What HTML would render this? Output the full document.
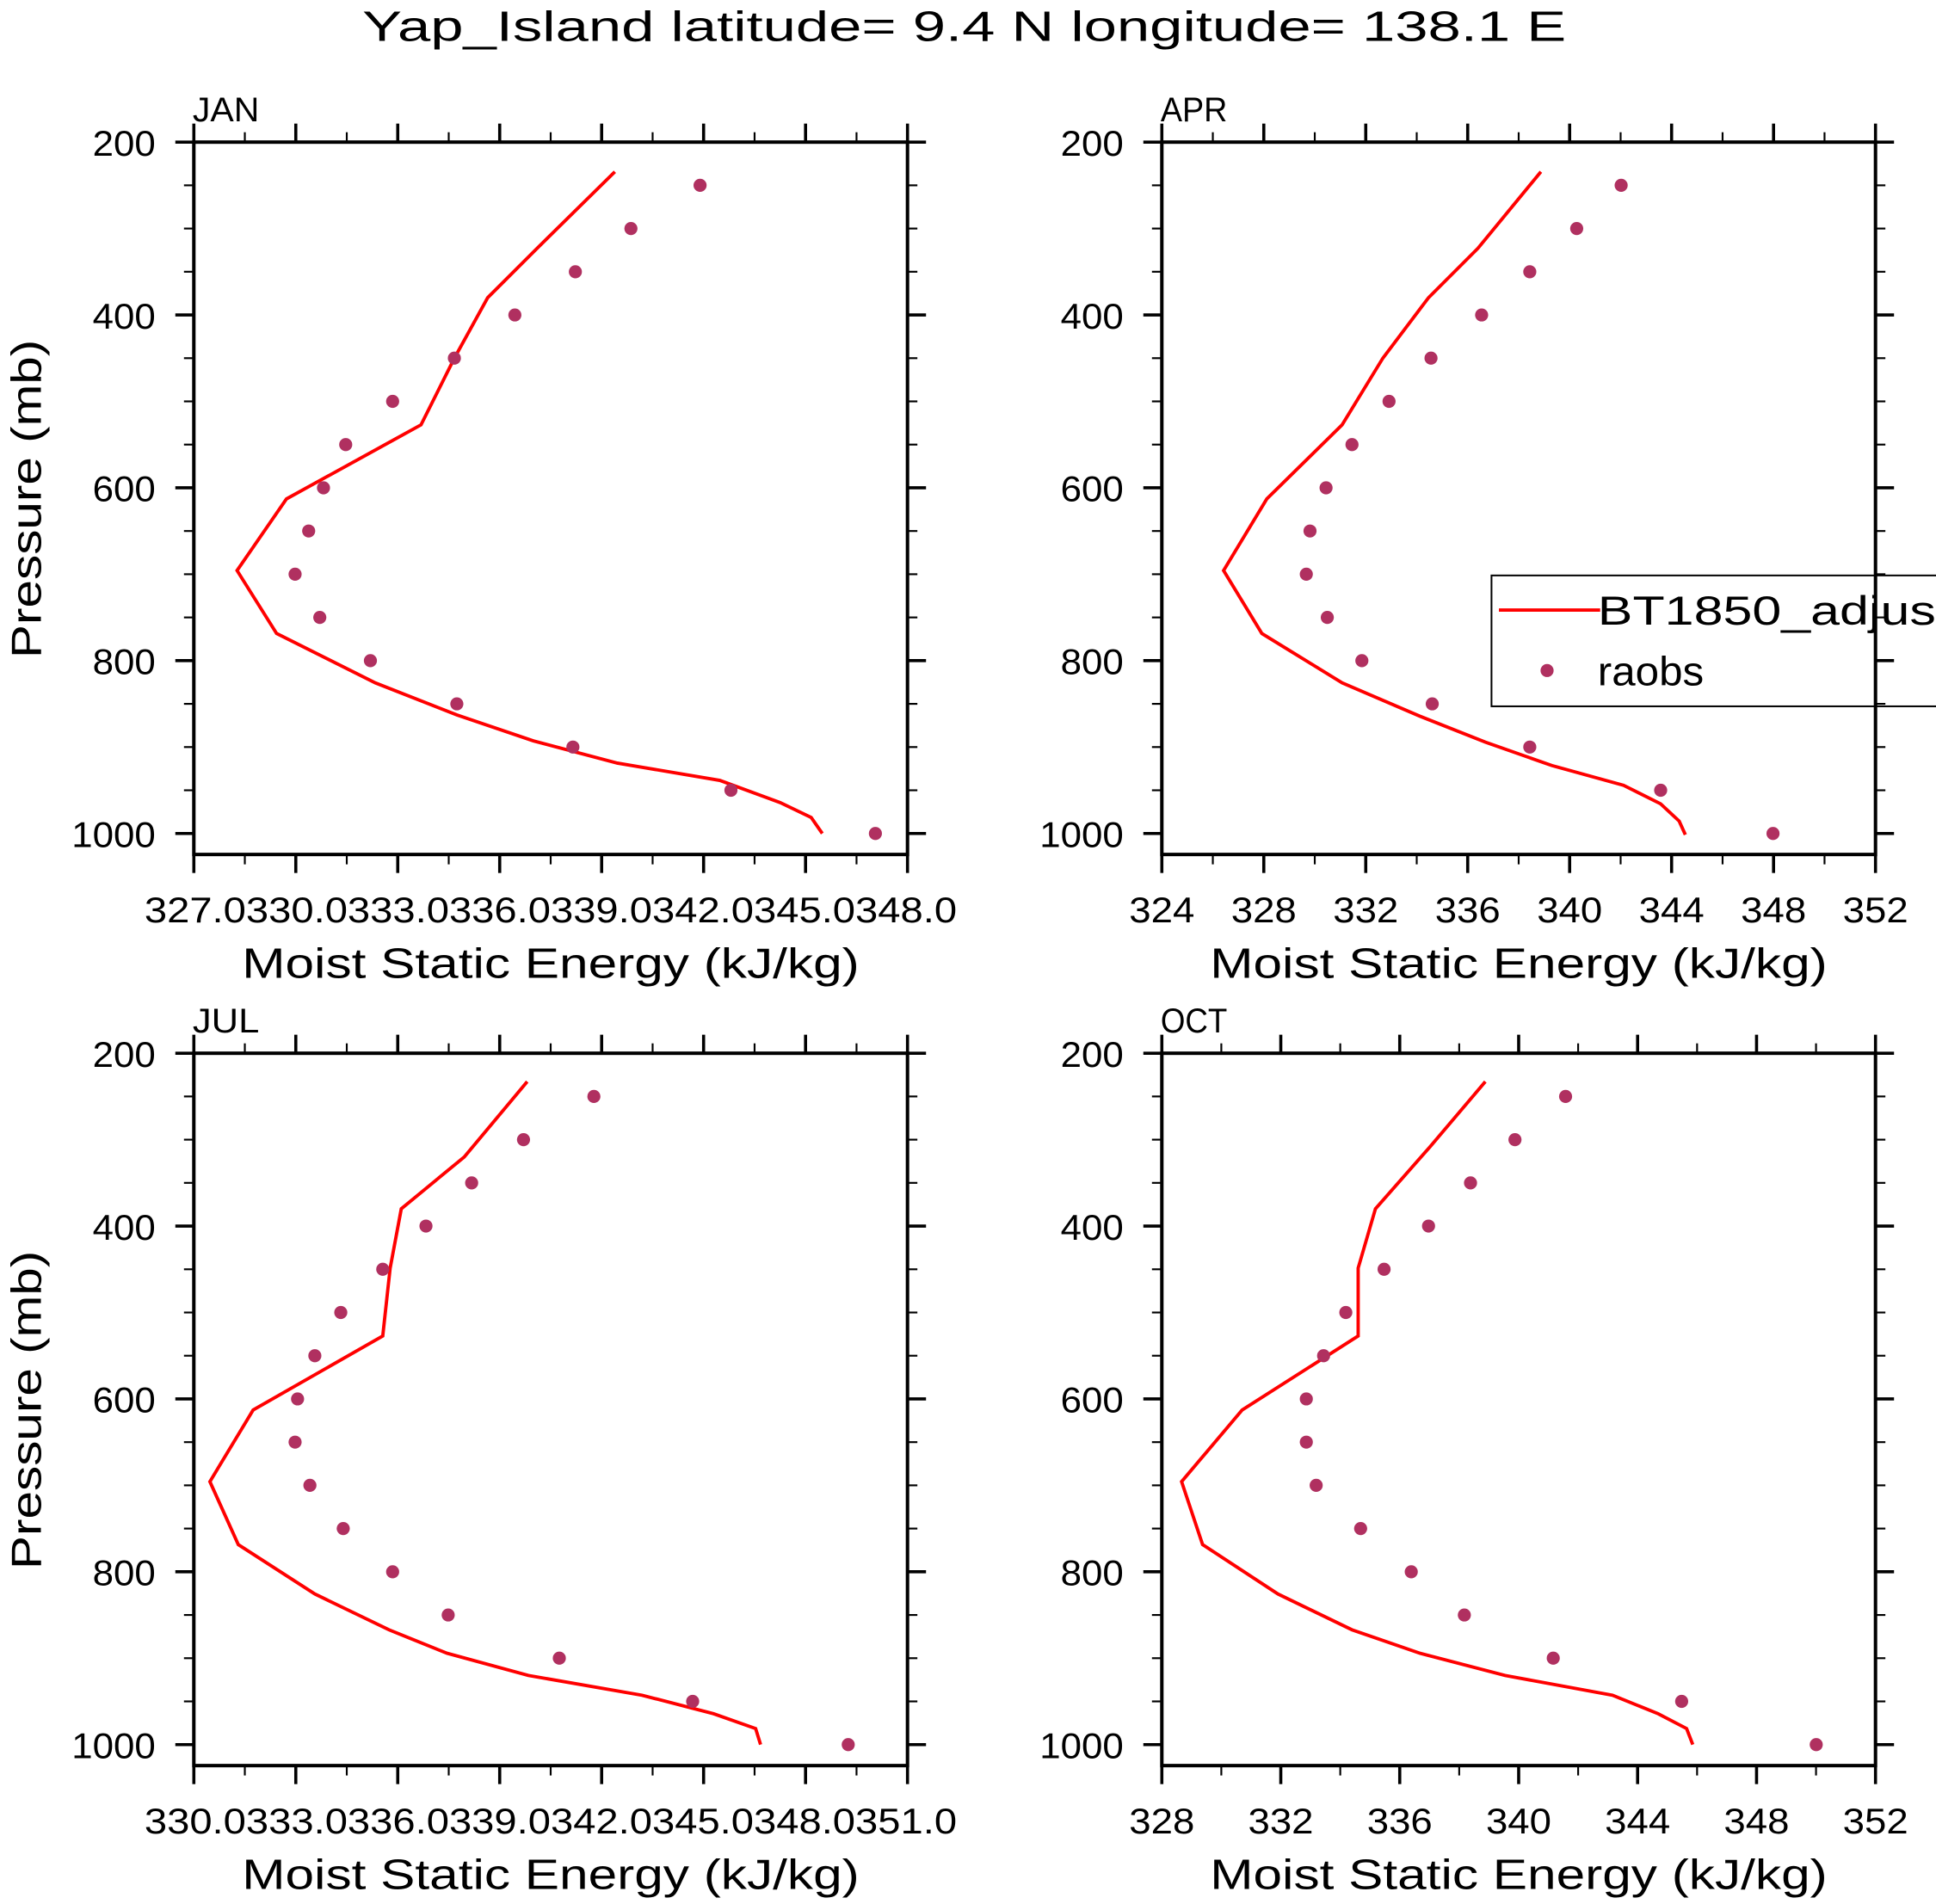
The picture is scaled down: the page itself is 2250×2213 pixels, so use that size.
<!DOCTYPE html>
<html><head><meta charset="utf-8"><style>
html,body{margin:0;padding:0;background:#fff}
svg{display:block}
text{font-family:"Liberation Sans",sans-serif;fill:#000}
</style></head><body>
<svg id="s" width="2250" height="2213" viewBox="0 0 1568 1542" xmlns="http://www.w3.org/2000/svg">
<text x="781" y="33" font-size="34" text-anchor="middle" textLength="975" lengthAdjust="spacingAndGlyphs">Yap_Island  latitude= 9.4 N longitude= 138.1 E</text>
</svg>
<script>
var s=document.getElementById('s'),NS='http://www.w3.org/2000/svg';
function el(t,a,txt){var e=document.createElementNS(NS,t);for(var k in a)e.setAttribute(k,a[k]);if(txt!=null)e.textContent=txt;s.appendChild(e);return e;}
function line(x1,y1,x2,y2,w){el('line',{x1:x1,y1:y1,x2:x2,y2:y2,stroke:'#000','stroke-width':w});}
var panels=[
{x:157,y:115,name:'JAN',xl:['327.0','330.0','333.0','336.0','339.0','342.0','345.0','348.0'],
 dots:[567,511,466,417,368,318,280,262,250,239,259,300,370,464,592,709],
 line:[[498,139],[433,203],[395,241],[368,290],[341,344],[232,404],[192,462],[224,513],[304,553],[370,579],[432,600],[500,618],[583,632],[632,650],[657,662],[666,675]]},
{x:941,y:115,name:'APR',xl:['324','328','332','336','340','344','348','352'],
 dots:[1313,1277,1239,1200,1159,1125,1095,1074,1061,1058,1075,1103,1160,1239,1345,1436],
 line:[[1248,139],[1197,201],[1157,241],[1120,290],[1087,344],[1026,404],[991,462],[1022,513],[1087,553],[1150,580],[1203,601],[1257,620],[1315,636],[1345,651],[1360,665],[1365,676]]},
{x:157,y:853,name:'JUL',xl:['330.0','333.0','336.0','339.0','342.0','345.0','348.0','351.0'],
 dots:[481,424,382,345,310,276,255,241,239,251,278,318,363,453,561,687],
 line:[[427,876],[376,937],[325,979],[316,1027],[310,1082],[205,1142],[170,1200],[193,1251],[255,1291],[315,1320],[362,1339],[428,1357],[520,1373],[578,1388],[612,1400],[616,1413]]},
{x:941,y:853,name:'OCT',xl:['328','332','336','340','344','348','352'],
 dots:[1268,1227,1191,1157,1121,1090,1072,1058,1058,1066,1102,1143,1186,1258,1362,1471],
 line:[[1203,876],[1158,929],[1114,979],[1100,1027],[1100,1082],[1006,1142],[957,1200],[974,1251],[1035,1291],[1095,1320],[1150,1339],[1219,1357],[1306,1373],[1343,1388],[1366,1400],[1371,1413]]}
];
var W=578,H=577;
panels.forEach(function(P){
  var x0=P.x,y0=P.y,x1=x0+W,y1=y0+H;
  el('polyline',{points:P.line.map(function(q){return q.join(',')}).join(' '),fill:'none',stroke:'#ff0000','stroke-width':2.7,'stroke-linejoin':'miter'});
  P.dots.forEach(function(dx,i){el('circle',{cx:dx,cy:y0+35+i*35,r:5.3,fill:'#b03060'});});
  for(var i=0;i<=16;i++){var y=y0+i*35,maj=(i%4==0);var L=maj?15:8;
    line(x0-L,y,x0,y,maj?2.5:1.5);line(x1,y,x1+L,y,maj?2.5:1.5);
    if(maj){var t=String(200+i*50);el('text',{x:x0-31,y:y+11,'font-size':29,'text-anchor':'end',textLength:t.length*17,lengthAdjust:'spacingAndGlyphs'},t);}}
  var n=P.xl.length-1,dx=W/n;
  for(var j=0;j<=2*n;j++){var x=x0+j*dx/2,maj=(j%2==0);var L=maj?15:8;
    line(x,y0-L,x,y0,maj?2.5:1.5);line(x,y1,x,y1+L,maj?2.5:1.5);}
  if(P.xl[0].length>3){
    el('text',{x:x0-40,y:y1+55,'font-size':29,textLength:658,lengthAdjust:'spacingAndGlyphs'},P.xl.join(''));
  } else {
    P.xl.forEach(function(t,k){el('text',{x:x0+k*dx,y:y1+55,'font-size':29,'text-anchor':'middle',textLength:53,lengthAdjust:'spacingAndGlyphs'},t);});
  }
  el('text',{x:x0+W/2,y:y1+100,'font-size':34,'text-anchor':'middle',textLength:500,lengthAdjust:'spacingAndGlyphs'},'Moist Static Energy (kJ/kg)');
  el('text',{x:x0-1,y:y0-17,'font-size':28,textLength:54,lengthAdjust:'spacingAndGlyphs'},P.name);
  el('rect',{x:x0,y:y0,width:W,height:H,fill:'none',stroke:'#000','stroke-width':2.8});
  if(P.x<500){var cy=y0+289;el('text',{x:0,y:0,'font-size':34,'text-anchor':'middle',transform:'translate(33,'+cy+') rotate(-90)',textLength:258,lengthAdjust:'spacingAndGlyphs'},'Pressure (mb)');}
});
el('rect',{x:1208,y:466,width:400,height:106,fill:'none',stroke:'#000','stroke-width':1.4});
el('line',{x1:1214,y1:494,x2:1296,y2:494,stroke:'#ff0000','stroke-width':2.7});
el('text',{x:1294,y:506,'font-size':33,textLength:340,lengthAdjust:'spacingAndGlyphs'},'BT1850_adjustcld');
el('circle',{cx:1253,cy:543,r:5.3,fill:'#b03060'});
el('text',{x:1294,y:555,'font-size':33,textLength:86,lengthAdjust:'spacingAndGlyphs'},'raobs');
</script>
</body></html>
